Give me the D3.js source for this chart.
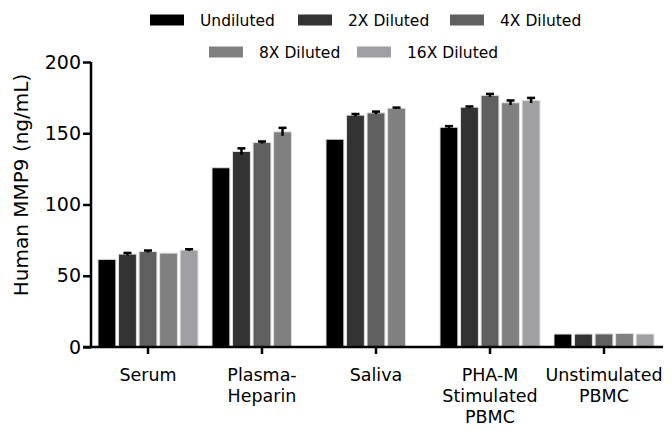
<!DOCTYPE html>
<html><head><meta charset="utf-8">
<script src="https://cdn.jsdelivr.net/npm/d3@7"></script>
<style>body{margin:0;background:#fff}svg{display:block}text{font-family:"DejaVu Sans",sans-serif}</style>
</head><body>
<svg id="c" width="672" height="431"></svg>
<script>
const categories = ["Serum", "Plasma-\nHeparin", "Saliva", "PHA-M\nStimulated\nPBMC", "Unstimulated\nPBMC"];
const seriesNames = ["Undiluted", "2X Diluted", "4X Diluted", "8X Diluted", "16X Diluted"];
const seriesColors = ["#000000", "#333333", "#5f5f5f", "#808080", "#a0a0a4"];
// values per series, one per category (null = not measured)
const undiluted = [61.5, 125.8, 145.8, 154.2, 9.1];
const diluted2x = [65.2, 137.2, 162.7, 168.3, 9.1];
const diluted4x = [67.0, 143.5, 164.3, 176.6, 9.2];
const diluted8x = [65.9, 151.0, 167.6, 171.4, 9.5];
const diluted16x = [68.0, null, null, 173.0, 9.1];
const err2x = [0.8, 2.2, 0.8, 0.5, 0];
const err4x = [0.7, 0.7, 0.9, 1.0, 0];
const err8x = [0, 2.8, 0.4, 1.6, 0];
const err16x = [0.6, 0, 0, 1.8, 0];
const errUndil = [0, 0, 0, 0.8, 0];
const yTicks = [0, 50, 100, 150, 200];

(function () {
const values = [undiluted, diluted2x, diluted4x, diluted8x, diluted16x];
const errors = [errUndil, err2x, err4x, err8x, err16x];

const svg = d3.select("#c");
const mLeft = 91, mRight = 661, mTop = 62, mBottom = 347;
const x0 = d3.scaleBand().domain(d3.range(categories.length)).range([mLeft, mRight]).paddingInner(0).paddingOuter(0);
const x1 = d3.scaleBand().domain(d3.range(seriesNames.length)).range([0, 100]).paddingInner(0.13).paddingOuter(0);
const y = d3.scaleLinear().domain([0, 200]).range([mBottom, mTop]);

const data = [];
categories.forEach((c, ci) => {
  values.forEach((s, si) => {
    if (s[ci] != null) data.push({ci, si, v: s[ci], e: errors[si][ci]});
  });
});
const g = svg.append("g");
const bx = d => x0(d.ci) + (x0.bandwidth() - 100) / 2 + x1(d.si);
g.selectAll("rect").data(data).enter().append("rect")
  .attr("x", bx)
  .attr("y", d => y(d.v))
  .attr("width", x1.bandwidth())
  .attr("height", d => y(0) - y(d.v))
  .attr("fill", d => seriesColors[d.si])
  .attr("stroke", "#e0e0e0").attr("stroke-width", 1);

const eb = data.filter(d => d.e > 0);
const ex = d => bx(d) + x1.bandwidth() / 2;
g.selectAll("line.eb").data(eb).enter().append("line").attr("class", "eb")
  .attr("x1", ex).attr("x2", ex)
  .attr("y1", d => y(d.v - d.e)).attr("y2", d => y(d.v + d.e))
  .attr("stroke", "#000").attr("stroke-width", 2.5);
g.selectAll("line.cap").data(eb).enter().append("line").attr("class", "cap")
  .attr("x1", d => ex(d) - 4).attr("x2", d => ex(d) + 4)
  .attr("y1", d => y(d.v + d.e)).attr("y2", d => y(d.v + d.e))
  .attr("stroke", "#000").attr("stroke-width", 2.5);

const ya = svg.append("g").attr("transform", `translate(${mLeft},0)`)
  .call(d3.axisLeft(y).tickValues(yTicks).tickSize(8).tickPadding(2));
ya.select(".domain").attr("stroke-width", 2.5).attr("d", `M0,${mTop}V${mBottom}`);
ya.selectAll(".tick line").attr("stroke-width", 2.5);
ya.selectAll("text").style("font-size", "19px").attr("fill", "#000");

const xa = svg.append("g").attr("transform", `translate(0,${mBottom})`)
  .call(d3.axisBottom(x0).tickSize(7).tickFormat(""));
xa.select(".domain").attr("stroke-width", 2.5).attr("d", `M${mLeft - 8},0H663`);
xa.selectAll(".tick line").attr("stroke-width", 2.5);
categories.forEach((c, ci) => {
  const cx = x0(ci) + x0.bandwidth() / 2;
  const t = svg.append("text").attr("text-anchor", "middle")
    .attr("x", cx).attr("y", 381)
    .style("font-size", "17.5px").attr("fill", "#000");
  c.split("\n").forEach((ln, li) => t.append("tspan").attr("x", cx).attr("dy", li ? 21 : 0).text(ln));
});

svg.append("text").attr("transform", `translate(28,185) rotate(-90)`)
  .attr("text-anchor", "middle").style("font-size", "20px").text("Human MMP9 (ng/mL)");

const legendPos = [[150, 20], [298, 20], [450, 20], [209, 52], [357, 52]];
seriesNames.forEach((n, i) => {
  const [lx, ly] = legendPos[i];
  svg.append("rect").attr("x", lx).attr("y", ly - 5.5).attr("width", 34).attr("height", 11).attr("fill", seriesColors[i]);
  svg.append("text").attr("x", lx + 50).attr("y", ly + 6).style("font-size", "15.5px").text(n);
});
})();
</script>
</body></html>
